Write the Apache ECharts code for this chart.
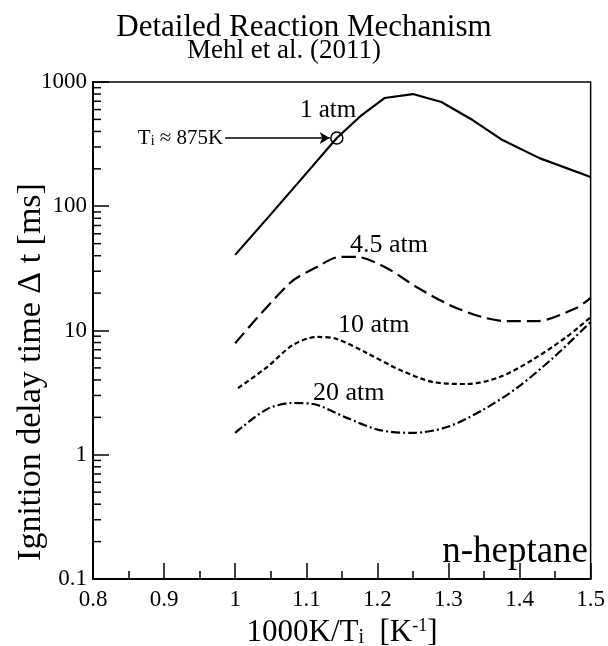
<!DOCTYPE html>
<html>
<head>
<meta charset="utf-8">
<script src="https://cdn.jsdelivr.net/npm/echarts@6/dist/echarts.min.js"></script>
<style>
  html, body { margin: 0; padding: 0; background: #fff; }
  #chart { width: 608px; height: 646px; }
</style>
</head>
<body>
<div id="chart"></div>
<script>
// Inverse temperature (1000K/Ti) and ignition delay (ms) for each pressure
const x1atm = [1.0, 1.05, 1.1, 1.143, 1.178, 1.21, 1.25, 1.29, 1.334, 1.376, 1.428, 1.5];
const tau1atm = [40.6, 86, 184, 354, 542, 743, 800, 690, 494, 341, 244, 172];

const x45atm = [1.0, 1.077, 1.115, 1.147, 1.171, 1.213, 1.255, 1.302, 1.348, 1.382, 1.424, 1.48, 1.5];
const tau45atm = [7.9, 24.1, 32.4, 39.1, 39.1, 31.8, 22.4, 16.0, 12.8, 11.9, 11.9, 15.2, 18.3];

const x10atm = [1.004, 1.045, 1.081, 1.115, 1.143, 1.185, 1.232, 1.278, 1.326, 1.372, 1.418, 1.466, 1.5];
const tau10atm = [3.44, 5.08, 7.64, 8.87, 8.55, 6.59, 4.81, 3.85, 3.71, 4.22, 5.79, 8.87, 12.8];

const x20atm = [1.0, 1.045, 1.081, 1.11, 1.157, 1.203, 1.25, 1.298, 1.348, 1.396, 1.447, 1.5];
const tau20atm = [1.5, 2.33, 2.61, 2.56, 1.98, 1.58, 1.5, 1.67, 2.29, 3.44, 6.01, 11.7];

// Marked point on the 1 atm curve (Ti ≈ 875 K) and the arrow that points at it
const markerPoint = [1.143, 354];
const arrowStart = [0.986, 354];
const arrowEnd = [1.133, 354];

const xTicks = ['0.8', '0.9', '1', '1.1', '1.2', '1.3', '1.4', '1.5'];
const yTicks = ['0.1', '1', '10', '100', '1000'];
// Minor tick positions of the logarithmic delay axis
const yMinorTicks = [
  0.2, 0.3, 0.4, 0.5, 0.6, 0.7, 0.8, 0.9,
  2, 3, 4, 5, 6, 7, 8, 9,
  20, 30, 40, 50, 60, 70, 80, 90,
  200, 300, 400, 500, 600, 700, 800, 900
];

const FONT = '"Liberation Serif", "DejaVu Serif", serif';

function pairs(xs, ys) { return xs.map((x, i) => [x, ys[i]]); }

const chart = echarts.init(document.getElementById('chart'), null, { renderer: 'canvas' });

const lineBase = { type: 'line', showSymbol: false, symbol: 'none', z: 3, silent: true };

chart.setOption({
  animation: false,
  backgroundColor: '#fff',
  grid: {
    left: 93, right: 17, top: 82, bottom: 67,
    show: true, borderColor: '#000', borderWidth: 1.5, backgroundColor: 'transparent'
  },
  xAxis: {
    type: 'value', min: 0.8, max: 1.5, interval: 0.1,
    axisLine: { show: true, lineStyle: { color: '#000', width: 2 } },
    axisTick: { show: true, inside: true, length: 16, lineStyle: { color: '#000', width: 1.5 } },
    minorTick: { show: true, splitNumber: 2, length: 8, lineStyle: { color: '#000', width: 1.5 } },
    splitLine: { show: false },
    axisLabel: {
      margin: 9, color: '#000', fontFamily: FONT, fontSize: 23,
      formatter: v => xTicks[Math.round((v - 0.8) * 10)]
    }
  },
  yAxis: {
    type: 'log', logBase: 10, min: 0.1, max: 1000,
    axisLine: { show: true, lineStyle: { color: '#000', width: 2 } },
    axisTick: { show: true, inside: true, length: 16, lineStyle: { color: '#000', width: 1.5 } },
    minorTick: { show: false },
    splitLine: { show: false },
    axisLabel: {
      margin: 6, color: '#000', fontFamily: FONT, fontSize: 23,
      formatter: v => yTicks[Math.round(Math.log10(v)) + 1]
    }
  },
  series: [
    {
      // short inward ticks at 2..9 of every decade
      type: 'custom', name: 'minor ticks', silent: true, clip: false, z: 5,
      data: yMinorTicks.map(v => [0.8, v]),
      renderItem: (params, api) => {
        const p = api.coord([api.value(0), api.value(1)]);
        return {
          type: 'line',
          shape: { x1: p[0], y1: p[1], x2: p[0] + 8, y2: p[1] },
          style: { stroke: '#000', lineWidth: 1.5 }
        };
      }
    },
    Object.assign({}, lineBase, {
      name: '1 atm', data: pairs(x1atm, tau1atm),
      lineStyle: { color: '#000', width: 2.2, type: 'solid' }
    }),
    Object.assign({}, lineBase, {
      name: '4.5 atm', data: pairs(x45atm, tau45atm), smooth: 0.3,
      lineStyle: { color: '#000', width: 2.2, type: [14, 6] }
    }),
    Object.assign({}, lineBase, {
      name: '10 atm', data: pairs(x10atm, tau10atm), smooth: 0.3,
      lineStyle: { color: '#000', width: 2.2, type: [5, 3] }
    }),
    Object.assign({}, lineBase, {
      name: '20 atm', data: pairs(x20atm, tau20atm), smooth: 0.3,
      lineStyle: { color: '#000', width: 2.2, type: [9, 3, 2, 3] }
    }),
    {
      type: 'scatter', name: 'Ti', data: [markerPoint], z: 4, silent: true,
      symbol: 'circle', symbolSize: 12,
      itemStyle: { color: 'rgba(0,0,0,0)', borderColor: '#000', borderWidth: 1.5, opacity: 1 },
      markLine: {
        silent: true, symbol: ['none', 'arrow'], symbolSize: [9, 10],
        lineStyle: { color: '#000', width: 1.5, type: 'solid' },
        label: {
          show: true, position: 'start', distance: 2, color: '#000',
          fontFamily: FONT, fontSize: 21,
          formatter: '{t|T}{s|i} ≈ 875K',
          rich: {
            t: { fontFamily: FONT, fontSize: 21, color: '#000' },
            s: { fontFamily: FONT, fontSize: 14, color: '#000', verticalAlign: 'bottom', padding: [7, 0, 0, 0] }
          }
        },
        data: [[{ coord: arrowStart }, { coord: arrowEnd }]]
      }
    }
  ],
  graphic: [
    { type: 'text', x: 304, y: 43, style: { text: 'Detailed Reaction Mechanism', font: '31px ' + FONT, fill: '#000', align: 'center', verticalAlign: 'bottom' } },
    { type: 'text', x: 284, y: 64, style: { text: 'Mehl et al. (2011)', font: '27px ' + FONT, fill: '#000', align: 'center', verticalAlign: 'bottom' } },
    { type: 'text', x: 300, y: 123, style: { text: '1 atm', font: '25px ' + FONT, fill: '#000', align: 'left', verticalAlign: 'bottom' } },
    { type: 'text', x: 350, y: 258, style: { text: '4.5 atm', font: '26px ' + FONT, fill: '#000', align: 'left', verticalAlign: 'bottom' } },
    { type: 'text', x: 338, y: 338, style: { text: '10 atm', font: '26px ' + FONT, fill: '#000', align: 'left', verticalAlign: 'bottom' } },
    { type: 'text', x: 313, y: 406, style: { text: '20 atm', font: '26px ' + FONT, fill: '#000', align: 'left', verticalAlign: 'bottom' } },
    { type: 'text', x: 588, y: 571, style: { text: 'n-heptane', font: '37px ' + FONT, fill: '#000', align: 'right', verticalAlign: 'bottom' } },
    {
      type: 'text', x: 342, y: 648,
      style: {
        text: '{n|1000K/T}{s|i}{n|  [K}{p|-1}{n|]}', align: 'center', verticalAlign: 'bottom', fill: '#000',
        font: '31px ' + FONT,
        rich: {
          n: { fontFamily: FONT, fontSize: 31, color: '#000' },
          s: { fontFamily: FONT, fontSize: 20, color: '#000', verticalAlign: 'bottom', padding: [9, 0, 0, 0] },
          p: { fontFamily: FONT, fontSize: 18, color: '#000', verticalAlign: 'top', padding: [0, 0, 12, 0] }
        }
      }
    },
    {
      type: 'text', x: 31, y: 372, rotation: Math.PI / 2,
      style: { text: 'Ignition delay time Δ t [ms]', font: '34px ' + FONT, fill: '#000', align: 'center', verticalAlign: 'middle' }
    }
  ]
});
</script>
</body>
</html>
